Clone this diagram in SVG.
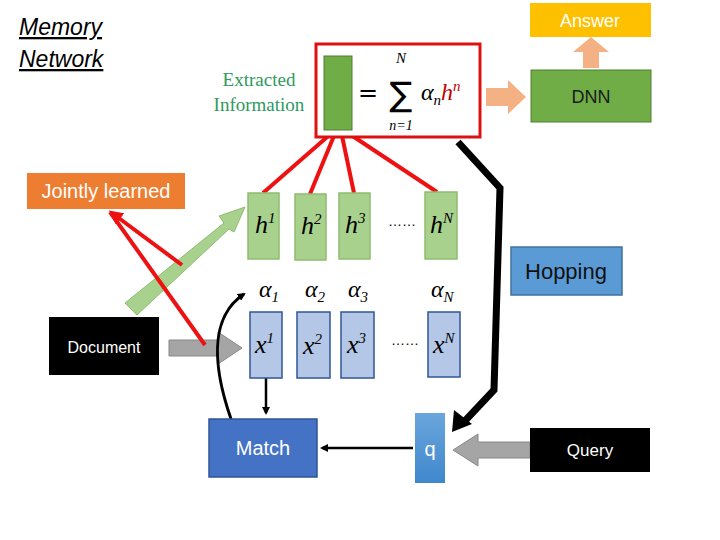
<svg xmlns="http://www.w3.org/2000/svg" width="720" height="540" viewBox="0 0 720 540">
<defs>
<style>
.s{font-family:"Liberation Sans",Arial,sans-serif}
.m{font-family:"Liberation Serif","DejaVu Serif",serif;font-style:italic}
.hb{fill:#a9d18e;stroke:#8fbc6f;stroke-width:1.5}
.xb{fill:#b4c7e7;stroke:#2f5597;stroke-width:1.5}
.red{stroke:#ee1111;stroke-width:4;fill:none}
</style>
<marker id="ak" markerWidth="8" markerHeight="8" refX="6" refY="4" orient="auto" markerUnits="userSpaceOnUse"><path d="M0,0 L8,4 L0,8 z" fill="#000"/></marker>
<marker id="ar" markerWidth="14" markerHeight="14" refX="10" refY="7" orient="auto" markerUnits="userSpaceOnUse"><path d="M0,0 L14,7 L0,14 z" fill="#ee1111"/></marker>
<linearGradient id="gq" x1="0" y1="0" x2="0" y2="1"><stop offset="0" stop-color="#6aa6dc"/><stop offset="1" stop-color="#3f87cc"/></linearGradient>
</defs>
<rect width="720" height="540" fill="#fff"/>
<text x="19" y="35" class="s" font-size="23" font-style="italic" text-decoration="underline" fill="#000">Memory</text>
<text x="19" y="67" class="s" font-size="23" font-style="italic" text-decoration="underline" fill="#000">Network</text>

<g id="connectors">
<polygon points="169,340 218,340 218,332 242,348 218,364 218,356 169,356" fill="#a5a5a5" stroke="#888"/>
<polygon points="125,303 224,223 219,216 245,207 234,232 229,229 137,315" fill="#a9d18e" stroke="#8fbc6f"/>
<polygon points="530,442 478,442 478,434 453,450 478,466 478,458 530,458" fill="#a5a5a5" stroke="#888"/>
<polygon points="486,88 508,88 508,80 526,97 508,114 508,106 486,106" fill="#f4b183"/>
<polygon points="583,68 583,52 573,52 591,37 609,52 599,52 599,68" fill="#f4b183"/>
<line x1="182" y1="265" x2="112" y2="213" class="red" marker-end="url(#ar)"/>
<line x1="205" y1="345" x2="110" y2="212" class="red"/>
<line x1="263" y1="193" x2="334" y2="131" class="red"/>
<line x1="310" y1="194" x2="336" y2="131" class="red"/>
<line x1="354" y1="193" x2="341" y2="131" class="red"/>
<line x1="437" y1="192" x2="345" y2="131" class="red"/>
<path d="M458,142 L500,188 L494,390 L462,424" fill="none" stroke="#000" stroke-width="7"/>
<polygon points="452,432 454,410 472,424" fill="#000"/>
<line x1="413" y1="448" x2="322" y2="448" stroke="#000" stroke-width="2.5" marker-end="url(#ak)"/>
<line x1="266" y1="378" x2="266" y2="413" stroke="#000" stroke-width="2.5" marker-end="url(#ak)"/>
<path d="M231,419 C214,370 208,318 244,294" fill="none" stroke="#000" stroke-width="3" marker-end="url(#ak)"/>
</g>

<g id="answer"><rect x="530" y="3" width="121" height="34" fill="#ffc000"/><text x="590" y="27" class="s" font-size="18" fill="#fff" text-anchor="middle">Answer</text></g>
<g id="dnn"><rect x="531" y="70" width="120" height="52" fill="#70ad47" stroke="#507e32"/><text x="591" y="103" class="s" font-size="18" fill="#1a1a1a" text-anchor="middle">DNN</text></g>
<g id="extracted">
<rect x="316" y="44" width="164" height="93" fill="#fff" stroke="#dd1111" stroke-width="3"/>
<rect x="324" y="56" width="28" height="74" fill="#70ad47" stroke="#507e32"/>
<text x="368" y="101" font-family="DejaVu Serif,serif" font-size="24" fill="#000" text-anchor="middle">=</text>
<text x="401" y="106" font-family="DejaVu Sans,sans-serif" font-size="34" fill="#000" text-anchor="middle">∑</text>
<text x="401" y="63" class="m" font-size="15" text-anchor="middle">N</text>
<text x="401" y="130" class="m" font-size="14" text-anchor="middle">n=1</text>
<text x="421" y="100" class="m" font-size="24">α<tspan font-size="15" dy="5">n</tspan><tspan fill="#c00000" dy="-5">h</tspan><tspan fill="#c00000" font-size="15" dy="-9">n</tspan></text>
<text x="259" y="86" font-family="Liberation Serif,serif" font-size="19" fill="#2e9a5e" text-anchor="middle">Extracted</text>
<text x="259" y="111" font-family="Liberation Serif,serif" font-size="19" fill="#2e9a5e" text-anchor="middle">Information</text>
</g>
<g id="jointly"><rect x="27" y="173" width="158" height="36" fill="#ed7d31"/><text x="106" y="198" class="s" font-size="20" fill="#fff" text-anchor="middle">Jointly learned</text></g>
<g id="h">
<rect x="248" y="193" width="31" height="66" class="hb"/><rect x="295" y="194" width="31" height="66" class="hb"/><rect x="339" y="193" width="31" height="66" class="hb"/><rect x="425" y="192" width="32" height="67" class="hb"/>
<text x="255" y="233" class="m" font-size="26">h<tspan font-size="15" dy="-10">1</tspan></text>
<text x="301" y="234" class="m" font-size="26">h<tspan font-size="15" dy="-10">2</tspan></text>
<text x="345" y="233" class="m" font-size="26">h<tspan font-size="15" dy="-10">3</tspan></text>
<text x="430" y="233" class="m" font-size="26">h<tspan font-size="15" dy="-10">N</tspan></text>
<text x="402" y="226" class="s" font-size="14" text-anchor="middle">……</text>
</g>
<g id="hopping"><rect x="511" y="247" width="111" height="48" fill="#5b9bd5" stroke="#41719c" stroke-width="1.5"/><text x="566" y="279" class="s" font-size="22" fill="#111" text-anchor="middle">Hopping</text></g>
<g id="alpha">
<text x="259" y="297" class="m" font-size="24">α<tspan font-size="15" dy="5">1</tspan></text>
<text x="305" y="297" class="m" font-size="24">α<tspan font-size="15" dy="5">2</tspan></text>
<text x="348" y="297" class="m" font-size="24">α<tspan font-size="15" dy="5">3</tspan></text>
<text x="431" y="297" class="m" font-size="24">α<tspan font-size="15" dy="5">N</tspan></text>
</g>
<g id="x">
<rect x="250" y="312" width="32" height="66" class="xb"/><rect x="297" y="312" width="33" height="66" class="xb"/><rect x="341" y="312" width="33" height="66" class="xb"/><rect x="428" y="312" width="32" height="65" class="xb"/>
<text x="255" y="353" class="m" font-size="26">x<tspan font-size="15" dy="-10">1</tspan></text>
<text x="303" y="354" class="m" font-size="26">x<tspan font-size="15" dy="-10">2</tspan></text>
<text x="347" y="353" class="m" font-size="26">x<tspan font-size="15" dy="-10">3</tspan></text>
<text x="433" y="353" class="m" font-size="26">x<tspan font-size="15" dy="-10">N</tspan></text>
<text x="405" y="345" class="s" font-size="14" text-anchor="middle">……</text>
</g>
<g id="document"><rect x="49" y="317" width="110" height="58" fill="#000"/><text x="104" y="353" class="s" font-size="16" fill="#fff" text-anchor="middle">Document</text></g>
<g id="match"><rect x="209" y="419" width="108" height="58" fill="#4472c4" stroke="#2f5597" stroke-width="1.5"/><text x="263" y="455" class="s" font-size="20" fill="#fff" text-anchor="middle">Match</text></g>
<g id="q"><rect x="415" y="413" width="30" height="70" fill="url(#gq)"/><text x="430" y="456" class="s" font-size="20" fill="#fff" text-anchor="middle">q</text></g>
<g id="query"><rect x="530" y="428" width="120" height="44" fill="#000"/><text x="590" y="456" class="s" font-size="17" fill="#fff" text-anchor="middle">Query</text></g>
</svg>
